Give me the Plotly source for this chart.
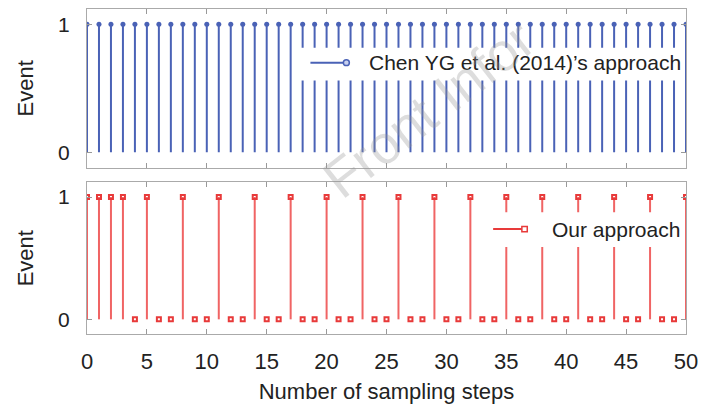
import plotly.graph_objects as go

# Sampling steps and event indicators for the two triggering schemes
steps = list(range(0, 51))
chen_events = [1] * 51
our_events = [1, 1, 1, 1, 0, 1, 0, 0, 1, 0, 0, 1, 0, 0, 1, 0, 0, 1, 0, 0,
              1, 0, 0, 1, 0, 0, 1, 0, 0, 1, 0, 0, 1, 0, 0, 1, 0, 0, 1, 0,
              0, 1, 0, 0, 1, 0, 0, 1, 0, 0, 1]
x_ticks = list(range(0, 51, 5))
y_ticks = [0, 1]
chen_label = "Chen YG et al. (2014)’s approach"
our_label = "Our approach"

BLUE = "#4a62b6"
RED = "#f06464"
FONT = "Liberation Sans, Arial, sans-serif"
TXT = "#222222"
FRAME = "#aaaaaa"


def stems(xs, ys):
    sx, sy = [], []
    for xv, yv in zip(xs, ys):
        sx += [xv, xv, None]
        sy += [0, yv, None]
    return sx, sy


fig = go.Figure()

sx, sy = stems(steps, chen_events)
fig.add_trace(go.Scatter(x=sx, y=sy, mode="lines", line=dict(color=BLUE, width=2),
                         xaxis="x", yaxis="y", showlegend=False, hoverinfo="skip"))
fig.add_trace(go.Scatter(x=steps, y=chen_events, mode="markers",
                         marker=dict(symbol="circle", size=5, color=BLUE),
                         xaxis="x", yaxis="y", showlegend=False))

sx, sy = stems(steps, our_events)
fig.add_trace(go.Scatter(x=sx, y=sy, mode="lines", line=dict(color=RED, width=2),
                         xaxis="x2", yaxis="y2", showlegend=False, hoverinfo="skip"))
fig.add_trace(go.Scatter(x=steps, y=our_events, mode="markers",
                         marker=dict(symbol="square-open", size=4, color="#e83a3a",
                                     line=dict(width=2)),
                         xaxis="x2", yaxis="y2", showlegend=False))

axis_common = dict(
    range=[0, 50], tickvals=x_ticks, ticks="inside", ticklen=5, tickcolor="#999999",
    showline=True, linecolor=FRAME, linewidth=1, mirror="ticks", showgrid=False,
    zeroline=False, tickfont=dict(family=FONT, size=22, color=TXT),
)
yaxis_common = dict(
    range=[-0.12, 1.12], tickvals=y_ticks, ticks="inside", ticklen=5, tickcolor="#999999",
    showline=True, linecolor=FRAME, linewidth=1, mirror="ticks", showgrid=False,
    zeroline=False, tickfont=dict(family=FONT, size=21, color=TXT), ticklabelstandoff=12,
)

fig.update_layout(
    width=706, height=408,
    margin=dict(l=87, r=16, t=8, b=72),
    paper_bgcolor="white", plot_bgcolor="white",
    xaxis=dict(axis_common, anchor="y", domain=[0, 1], showticklabels=False),
    yaxis=dict(yaxis_common, anchor="x", domain=[0.5122, 1],
               title=dict(text="Event", font=dict(family=FONT, size=22, color=TXT), standoff=18)),
    xaxis2=dict(axis_common, anchor="y2", domain=[0, 1], ticklabelstandoff=8,
                title=dict(text="Number of sampling steps",
                           font=dict(family=FONT, size=22, color=TXT), standoff=10)),
    yaxis2=dict(yaxis_common, anchor="x2", domain=[0, 0.4665],
                title=dict(text="Event", font=dict(family=FONT, size=22, color=TXT), standoff=18)),
    showlegend=False,
)

# Legend boxes drawn over the stems
shapes = [
    dict(type="rect", xref="paper", yref="paper", x0=0.357, x1=0.997, y0=0.780, y1=0.881,
         fillcolor="white", line=dict(width=0), layer="above"),
    dict(type="line", xref="paper", yref="paper", x0=0.373, x1=0.428, y0=0.835, y1=0.835,
         line=dict(color=BLUE, width=2), layer="above"),
    dict(type="circle", xref="paper", yref="paper", x0=0.428, x1=0.438, y0=0.826, y1=0.844,
         fillcolor="#c8d0ee", line=dict(color=BLUE, width=1.5), layer="above"),
    dict(type="rect", xref="paper", yref="paper", x0=0.663, x1=0.997, y0=0.268, y1=0.375,
         fillcolor="white", line=dict(width=0), layer="above"),
    dict(type="line", xref="paper", yref="paper", x0=0.678, x1=0.726, y0=0.323, y1=0.323,
         line=dict(color="#e83a3a", width=2), layer="above"),
    dict(type="rect", xref="paper", yref="paper", x0=0.726, x1=0.735, y0=0.315, y1=0.331,
         fillcolor="white", line=dict(color="#e83a3a", width=1.5), layer="above"),
]
fig.update_layout(shapes=shapes)

annotations = [
    dict(text=chen_label, xref="paper", yref="paper", x=0.468, y=0.835,
         xanchor="left", yanchor="middle", showarrow=False,
         font=dict(family=FONT, size=21, color=TXT)),
    dict(text=our_label, xref="paper", yref="paper", x=0.773, y=0.323,
         xanchor="left", yanchor="middle", showarrow=False,
         font=dict(family=FONT, size=21, color=TXT)),
    dict(text="Front Infor", xref="paper", yref="paper", x=0.57, y=0.692,
         xanchor="center", yanchor="middle", showarrow=False, textangle=-38,
         font=dict(family=FONT, size=54, color="rgba(150,150,150,0.32)")),
]
fig.update_layout(annotations=annotations)

fig.write_html("out.html")
